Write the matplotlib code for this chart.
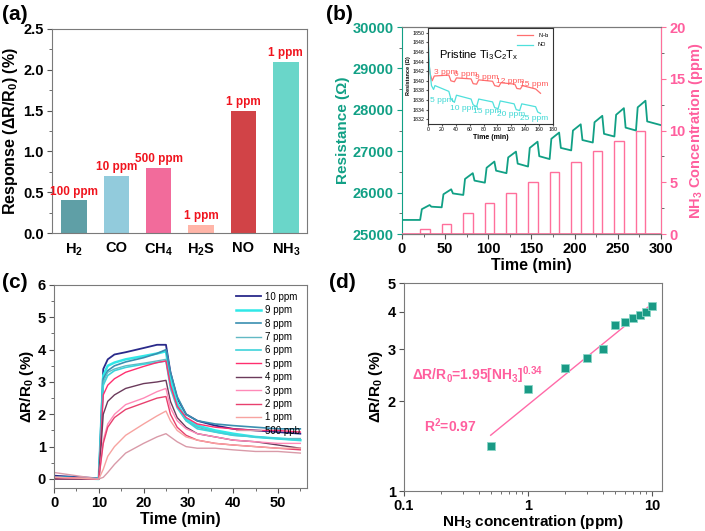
import matplotlib
matplotlib.use("Agg")
import matplotlib.pyplot as plt
from matplotlib.ticker import MultipleLocator, FixedLocator, NullFormatter, NullLocator

plt.rcParams['font.family'] = ['Liberation Sans', 'DejaVu Sans']
plt.rcParams['mathtext.fontset'] = 'custom'
plt.rcParams['mathtext.rm'] = 'Liberation Sans'
plt.rcParams['mathtext.bf'] = 'Liberation Sans:bold'
plt.rcParams['mathtext.it'] = 'Liberation Sans:italic'
plt.rcParams['mathtext.default'] = 'bf'
plt.rcParams['axes.edgecolor'] = '#7a7a7a'
plt.rcParams['xtick.color'] = '#555555'
plt.rcParams['ytick.color'] = '#555555'
plt.rcParams['xtick.labelcolor'] = 'black'
plt.rcParams['ytick.labelcolor'] = 'black'
plt.rcParams['xtick.major.pad'] = 2.5
plt.rcParams['ytick.major.pad'] = 2.5

# ---------------- data ----------------
# (a) selectivity
gases = ['H$_2$', 'CO', 'CH$_4$', 'H$_2$S', 'NO', 'NH$_3$']
gas_response = [0.4, 0.7, 0.8, 0.1, 1.5, 2.1]
gas_conc = ['100 ppm', '10 ppm', '500 ppm', '1 ppm', '1 ppm', '1 ppm']
gas_colors = ['#5f9fa6', '#92cbdc', '#f26b9b', '#ffb5a8', '#d14347', '#6ad6c9']

# (b) dynamic resistance
res_time = [0, 21, 23, 32, 34, 46, 48, 57, 59, 71, 73, 82, 84, 96, 98, 107, 109,
            121, 123, 132, 134, 146, 148, 157, 159, 171, 173, 182, 184, 196,
            198, 207, 209, 221, 223, 232, 234, 246, 248, 257, 259, 271, 273,
            282, 284, 300]
res_value = [25340, 25340, 25600, 25700, 25660, 25645, 25960, 26080, 25980,
             25944, 26330, 26470, 26290, 26240, 26600, 26750, 26530, 26470,
             26850, 26990, 26700, 26630, 27080, 27230, 26880, 26810, 27300,
             27450, 27080, 27020, 27500, 27650, 27270, 27210, 27700, 27855,
             27420, 27355, 27880, 28040, 27570, 27500, 28060, 28220, 27720,
             27630]
pulse_start = [21, 46, 71, 96, 121, 146, 171, 196, 221, 246, 271]
pulse_width = [11, 11, 11, 11, 11, 11, 11, 11, 11, 11, 11]
pulse_conc = [0.5, 1, 2, 3, 4, 5, 6, 7, 8, 9, 10]

# (b) inset: pristine Ti3C2Tx
nh3_t = [0, 3, 6, 9, 30, 33, 38, 41, 62, 65, 70, 73, 93, 96, 102, 105, 125,
         128, 133, 136, 155, 162]
nh3_r = [1845.5, 1841.5, 1840.0, 1841.0, 1841.2, 1840.0, 1839.8, 1840.6,
         1840.4, 1839.4, 1839.3, 1840.2, 1839.9, 1839.0, 1838.8, 1839.6,
         1839.3, 1838.4, 1838.3, 1839.0, 1838.3, 1837.4]
no_t = [0, 2, 5, 8, 10, 30, 33, 38, 41, 62, 65, 70, 73, 93, 96, 101, 104,
        124, 127, 132, 135, 155, 158, 162]
no_r = [1849.5, 1843.0, 1839.0, 1838.2, 1839.0, 1837.8, 1836.2, 1835.5,
        1837.0, 1836.2, 1835.0, 1834.6, 1836.2, 1835.6, 1834.4, 1834.2,
        1835.8, 1835.2, 1834.0, 1833.8, 1835.2, 1834.6, 1833.5, 1833.2]
nh3_labels = ['3 ppm', '6 ppm', '9 ppm', '12 ppm', '15 ppm']
nh3_label_t = [9, 38, 67, 98, 133]
nh3_label_r = [1841.8, 1841.3, 1840.7, 1839.8, 1839.3]
no_labels = ['5 ppm', '10 ppm', '15 ppm', '20 ppm', '25 ppm']
no_label_t = [3, 32, 65, 99, 133]
no_label_r = [1835.9, 1834.2, 1833.6, 1832.9, 1832.2]

# (c) response curves
curve_t = [0, 10, 11, 12, 13.5, 16, 20, 23, 25, 26, 27.5, 29.5, 32, 36, 40,
           45, 50, 55]
curve_labels = ['10 ppm', '9 ppm', '8 ppm', '7 ppm', '6 ppm', '5 ppm',
                '4 ppm', '3 ppm', '2 ppm', '1 ppm', '500 ppb']
curve_colors = ['#2a2a8a', '#30e8e8', '#3a8fb0', '#62b9c4', '#3fd3da',
                '#ff2f6f', '#6b3a5b', '#ff8ab8', '#e8406e', '#f7a3a0',
                '#d99aa8']
curve_widths = [1.3, 1.8, 1.2, 1.0, 1.2, 1.0, 1.0, 1.0, 1.0, 1.0, 1.0]
curve_values = [
    [0.10, 0.02, 3.40, 3.70, 3.85, 3.92, 4.05, 4.15, 4.15, 3.30, 2.50, 2.00, 1.80, 1.65, 1.55, 1.50, 1.45, 1.40],
    [0.05, 0.00, 3.20, 3.50, 3.60, 3.70, 3.80, 3.88, 3.95, 3.10, 2.35, 1.85, 1.65, 1.50, 1.40, 1.30, 1.25, 1.20],
    [0.05, 0.00, 3.10, 3.35, 3.50, 3.62, 3.75, 3.88, 4.00, 3.30, 2.55, 2.00, 1.80, 1.70, 1.65, 1.60, 1.55, 1.55],
    [0.00, 0.00, 3.00, 3.30, 3.40, 3.50, 3.58, 3.65, 3.70, 2.90, 2.25, 1.80, 1.60, 1.45, 1.35, 1.30, 1.25, 1.25],
    [0.00, 0.00, 2.90, 3.20, 3.35, 3.45, 3.55, 3.60, 3.65, 2.80, 2.20, 1.80, 1.55, 1.45, 1.35, 1.30, 1.25, 1.20],
    [0.00, 0.00, 2.60, 2.90, 3.10, 3.30, 3.48, 3.60, 3.65, 2.90, 2.25, 1.90, 1.70, 1.60, 1.55, 1.50, 1.50, 1.45],
    [0.00, 0.00, 2.00, 2.40, 2.60, 2.80, 2.95, 3.00, 3.05, 2.40, 1.90, 1.60, 1.40, 1.30, 1.20, 1.15, 1.05, 0.95],
    [0.05, 0.00, 1.20, 1.70, 2.00, 2.30, 2.50, 2.70, 2.80, 2.20, 1.80, 1.55, 1.40, 1.30, 1.20, 1.15, 1.10, 1.10],
    [0.05, 0.00, 1.10, 1.60, 1.90, 2.15, 2.35, 2.50, 2.55, 2.00, 1.60, 1.35, 1.20, 1.10, 1.05, 1.00, 0.95, 0.90],
    [0.05, 0.00, 0.30, 0.70, 1.00, 1.35, 1.70, 1.95, 2.10, 1.80, 1.50, 1.30, 1.20, 1.10, 1.05, 1.00, 0.95, 0.95],
    [0.20, 0.00, 0.05, 0.20, 0.45, 0.80, 1.10, 1.30, 1.40, 1.30, 1.15, 1.00, 0.95, 0.95, 0.90, 0.85, 0.85, 0.80],
]

# (d) log-log fit
conc_ppm = [0.5, 1, 2, 3, 4, 5, 6, 7, 8, 9, 10]
resp_pct = [1.42, 2.2, 2.6, 2.8, 3.0, 3.6, 3.7, 3.8, 3.9, 4.0, 4.2]
fit_x = [0.5, 10]
fit_y = [1.54, 4.26]

teal = '#11a085'
pink = '#ff5f9e'

fig = plt.figure(figsize=(7.05, 5.31), dpi=100)

# ---------------- (a) ----------------
ax = fig.add_axes([0.0738, 0.5612, 0.3617, 0.3842])
xs = range(len(gases))
ax.bar(xs, gas_response, width=0.6, color=gas_colors)
for x, v, c in zip(xs, gas_response, gas_conc):
    ax.text(x, v + 0.03, c, ha='center', va='bottom', color='#f0141e',
            fontsize=8.5, fontweight='bold')
ax.set_xlim(-0.52, 5.5)
ax.set_ylim(0, 2.5)
ax.set_xticks(list(xs))
ax.set_xticklabels(gases, fontsize=10.5, fontweight='bold')
ax.yaxis.set_major_locator(MultipleLocator(0.5))
ax.yaxis.set_minor_locator(MultipleLocator(0.25))
ax.tick_params(axis='x', length=0, pad=6)
ax.tick_params(axis='y', labelsize=10.5)
for lab in ax.get_yticklabels():
    lab.set_fontweight('bold')
ax.set_ylabel('Response (ΔR/R$_0$) (%)', fontsize=11.5, fontweight='bold',
              labelpad=2)

# ---------------- (b) ----------------
bx = fig.add_axes([0.5702, 0.5593, 0.3674, 0.3898])
bx.plot(res_time, res_value, color=teal, lw=1.3)
bx.set_xlim(0, 300)
bx.set_ylim(25000, 30000)
bx.xaxis.set_major_locator(MultipleLocator(50))
bx.xaxis.set_minor_locator(MultipleLocator(25))
bx.yaxis.set_major_locator(MultipleLocator(1000))
bx.yaxis.set_minor_locator(MultipleLocator(500))
bx.spines['left'].set_color(teal)
bx.spines['bottom'].set_color('#444444')
bx.tick_params(axis='y', colors=teal, labelcolor=teal, labelsize=10.5)
bx.tick_params(axis='x', labelsize=10.5)
for lab in bx.get_yticklabels() + bx.get_xticklabels():
    lab.set_fontweight('bold')
bx.set_ylabel('Resistance (Ω)', color=teal, fontsize=11, fontweight='bold',
              labelpad=2)
bx.set_xlabel('Time (min)', fontsize=11.5, fontweight='bold', labelpad=1)

bx2 = bx.twinx()
bx2.bar(pulse_start, pulse_conc, width=pulse_width, align='edge',
        facecolor='none', edgecolor='#ff6f9b', lw=1.0)
bx2.plot([0, 300], [0, 0], color='#ff6f9b', lw=1.2)
bx2.set_ylim(0, 20)
bx2.yaxis.set_major_locator(MultipleLocator(5))
bx2.yaxis.set_minor_locator(MultipleLocator(2.5))
bx2.spines['right'].set_color('#ff6f9b')
bx2.spines['left'].set_visible(False)
bx2.tick_params(axis='y', colors='#ff6f9b', labelcolor=pink, labelsize=10.5)
for lab in bx2.get_yticklabels():
    lab.set_fontweight('bold')
bx2.set_ylabel('NH$_3$ Concentration (ppm)', color=pink, fontsize=10.5,
               fontweight='bold', labelpad=1)

# inset
ix = fig.add_axes([0.6071, 0.7665, 0.1773, 0.1807])
ix.plot(nh3_t, nh3_r, color='#ff6f6f', lw=0.9, label='NH$_3$')
ix.plot(no_t, no_r, color='#4fe0dc', lw=0.9, label='NO')
for s, t, r in zip(nh3_labels, nh3_label_t, nh3_label_r):
    ix.text(t, r, s, color='#ff5a5a', fontsize=6, va='center')
for s, t, r in zip(no_labels, no_label_t, no_label_r):
    ix.text(t, r, s, color='#3fd8d4', fontsize=6, va='center')
ix.text(16, 1845.3, 'Pristine Ti$\\mathrm{_3}$C$\\mathrm{_2}$T$\\mathrm{_x}$',
        fontsize=8, va='center')
ix.set_xlim(0, 180)
ix.set_ylim(1831, 1851)
ix.xaxis.set_major_locator(MultipleLocator(20))
ix.yaxis.set_major_locator(MultipleLocator(2))
ix.tick_params(labelsize=3.8, length=1.5, pad=1)
for sp in ix.spines.values():
    sp.set_color('#333333')
ix.set_xlabel('Time (min)', fontsize=5, fontweight='bold', labelpad=1)
ix.set_ylabel('Resistance (Ω)', fontsize=4, fontweight='bold', labelpad=1)
ix.legend(loc='upper right', fontsize=4, frameon=False, handlelength=3,
          borderaxespad=0.2, labelspacing=0.4)

# ---------------- (c) ----------------
cx = fig.add_axes([0.0766, 0.081, 0.3589, 0.3823])
for vals, lab, col, w in zip(curve_values, curve_labels, curve_colors, curve_widths):
    cx.plot(curve_t, vals, color=col, lw=w, label=lab)
cx.set_xlim(0, 56.5)
cx.set_ylim(-0.28, 6)
cx.xaxis.set_major_locator(MultipleLocator(10))
cx.xaxis.set_minor_locator(MultipleLocator(5))
cx.yaxis.set_major_locator(MultipleLocator(1))
cx.yaxis.set_minor_locator(MultipleLocator(0.5))
cx.tick_params(labelsize=10.5)
for lab in cx.get_yticklabels() + cx.get_xticklabels():
    lab.set_fontweight('bold')
cx.set_xlabel('Time (min)', fontsize=11.5, fontweight='bold', labelpad=1)
cx.set_ylabel('ΔR/R$_0$ (%)', fontsize=11, fontweight='bold', labelpad=1)
cx.legend(loc='upper right', fontsize=7, frameon=False, handlelength=2.6,
          labelspacing=0.35, handletextpad=0.4, borderaxespad=0.3)

# ---------------- (d) ----------------
dx = fig.add_axes([0.573, 0.0753, 0.366, 0.3917])
dx.plot(fit_x, fit_y, color='#ff6aa8', lw=1.0)
dx.plot(conc_ppm, resp_pct, 's', color='#1a9a85', mec='#8ad6c8', mew=0.6,
        ms=5.5)
dx.set_xscale('log')
dx.set_yscale('log')
dx.set_xlim(0.1, 12)
dx.set_ylim(1, 5)
dx.xaxis.set_major_locator(FixedLocator([0.1, 1, 10]))
dx.set_xticklabels(['0.1', '1', '10'])
dx.xaxis.set_minor_formatter(NullFormatter())
dx.yaxis.set_major_locator(FixedLocator([1, 2, 3, 4, 5]))
dx.set_yticklabels(['1', '2', '3', '4', '5'])
dx.yaxis.set_minor_locator(NullLocator())
dx.tick_params(labelsize=10.5)
for lab in dx.get_yticklabels() + dx.get_xticklabels():
    lab.set_fontweight('bold')
dx.set_xlabel('NH$_3$ concentration (ppm)', fontsize=11, fontweight='bold',
              labelpad=0)
dx.set_ylabel('ΔR/R$_0$ (%)', fontsize=11, fontweight='bold', labelpad=2)
dx.text(0.117, 2.45, 'ΔR/R$_0$=1.95[NH$_3$]$^{0.34}$', color=pink,
        fontsize=10, fontweight='bold', va='center')
dx.text(0.145, 1.66, 'R$^2$=0.97', color=pink, fontsize=10, fontweight='bold',
        va='center')

# panel labels
for s, x, y in [('(a)', 0.003, 0.972), ('(b)', 0.463, 0.972),
                ('(c)', 0.003, 0.468), ('(d)', 0.466, 0.468)]:
    fig.text(x, y, s, fontsize=15, fontweight='bold', va='center')

fig.savefig('out.png', dpi=100)
